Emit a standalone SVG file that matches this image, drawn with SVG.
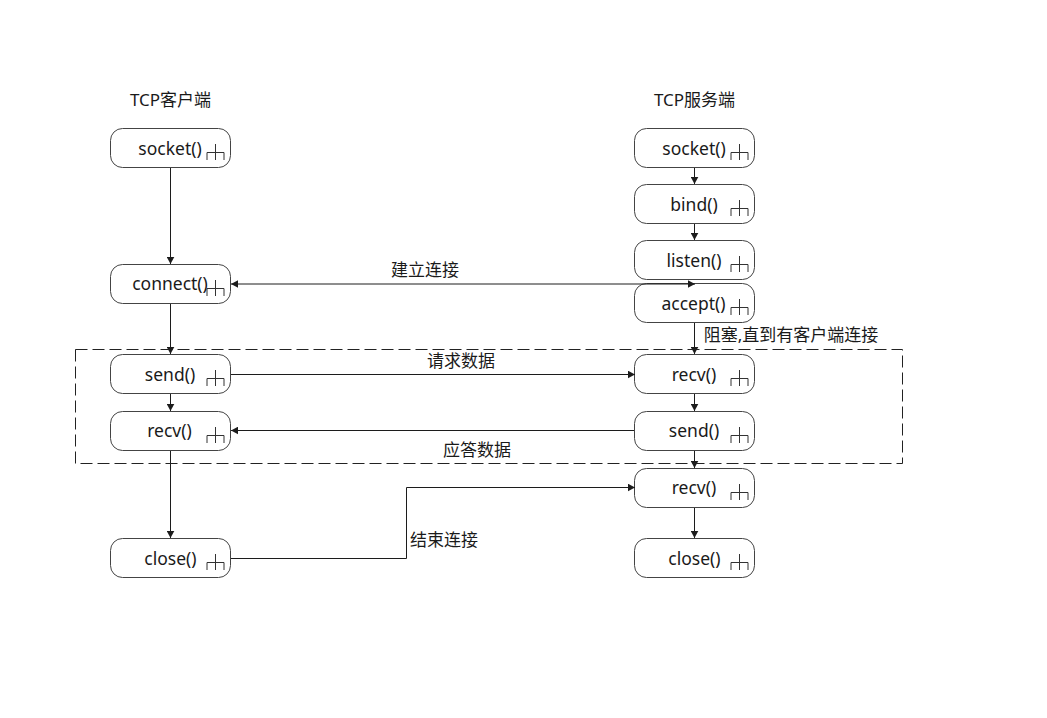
<svg xmlns="http://www.w3.org/2000/svg" xmlns:xlink="http://www.w3.org/1999/xlink" width="1047" height="718" viewBox="0 0 1047 718">
  <style>
    text { font-family: "Noto Sans", "Noto Sans CJK SC", sans-serif; font-size: 17px; fill: #1a1a1a; }
    .fn { font-size: 17.5px; text-anchor: middle; }
    .box { fill: #fff; stroke: #444; stroke-width: 1; }
    .icon { fill: none; stroke: #333; stroke-width: 1; }
    .link { fill: none; stroke: #1c1c1c; stroke-width: 1; }
    .frame { fill: none; stroke: #222; stroke-width: 1; stroke-dasharray: 12 5; }
    .mid { text-anchor: middle; }
  </style>
  <defs>
    <marker id="arrow" markerUnits="userSpaceOnUse" markerWidth="8" markerHeight="8" refX="7" refY="4" orient="auto-start-reverse">
      <path d="M0 .2L7 4L0 7.8Z" fill="#1c1c1c"/>
    </marker>
    <g id="sub">
      <path class="icon" d="M96.5 15.5V31.5M88 31.5V24H105V31.5"/>
    </g>
  </defs>
  <rect width="1047" height="718" fill="#fff"/>

  <g id="client-socket"><rect class="box" x="110.5" y="128.5" width="120" height="39" rx="12"/><text x="170" y="155" class="fn">socket()</text><use href="#sub" x="119" y="128.5"/></g>
  <g id="client-connect"><rect class="box" x="110.5" y="264.5" width="120" height="39" rx="12"/><text x="170" y="290" class="fn">connect()</text><use href="#sub" x="119" y="264.5"/></g>
  <g id="client-send"><rect class="box" x="110.5" y="354.5" width="120" height="39" rx="12"/><text x="170" y="381" class="fn">send()</text><use href="#sub" x="119" y="354.5"/></g>
  <g id="client-recv"><rect class="box" x="110.5" y="411.5" width="120" height="39" rx="12"/><text x="169.5" y="437" class="fn">recv()</text><use href="#sub" x="119" y="411.5"/></g>
  <g id="client-close"><rect class="box" x="110.5" y="538.5" width="120" height="39" rx="12"/><text x="170.5" y="565" class="fn">close()</text><use href="#sub" x="119" y="538.5"/></g>

  <g id="server-socket"><rect class="box" x="634.5" y="128.5" width="120" height="39" rx="12"/><text x="694" y="155" class="fn">socket()</text><use href="#sub" x="643" y="128.5"/></g>
  <g id="server-bind"><rect class="box" x="634.5" y="184.5" width="120" height="39" rx="12"/><text x="694" y="211" class="fn">bind()</text><use href="#sub" x="643" y="184.5"/></g>
  <g id="server-listen"><rect class="box" x="634.5" y="240.5" width="120" height="39" rx="12"/><text x="694" y="267" class="fn">listen()</text><use href="#sub" x="643" y="240.5"/></g>
  <g id="server-accept"><rect class="box" x="634.5" y="283.5" width="120" height="39" rx="12"/><text x="693.5" y="310" class="fn">accept()</text><use href="#sub" x="643" y="283.5"/></g>
  <g id="server-recv"><rect class="box" x="634.5" y="354.5" width="120" height="39" rx="12"/><text x="694" y="381" class="fn">recv()</text><use href="#sub" x="643" y="354.5"/></g>
  <g id="server-send"><rect class="box" x="634.5" y="411.5" width="120" height="39" rx="12"/><text x="694" y="437" class="fn">send()</text><use href="#sub" x="643" y="411.5"/></g>
  <g id="server-recv2"><rect class="box" x="634.5" y="468.5" width="120" height="39" rx="12"/><text x="694" y="494" class="fn">recv()</text><use href="#sub" x="643" y="468.5"/></g>
  <g id="server-close"><rect class="box" x="634.5" y="538.5" width="120" height="39" rx="12"/><text x="694.5" y="565" class="fn">close()</text><use href="#sub" x="643" y="538.5"/></g>

  <g id="connectors">
    <path class="link" d="M170.5 168V264" marker-end="url(#arrow)"/>
    <path class="link" d="M170.5 304V354" marker-end="url(#arrow)"/>
    <path class="link" d="M170.5 394V411" marker-end="url(#arrow)"/>
    <path class="link" d="M170.5 451V538" marker-end="url(#arrow)"/>
    <path class="link" d="M694.5 168V184" marker-end="url(#arrow)"/>
    <path class="link" d="M694.5 224V240" marker-end="url(#arrow)"/>
    <path class="link" d="M694.5 323V354" marker-end="url(#arrow)"/>
    <path class="link" d="M694.5 394V411" marker-end="url(#arrow)"/>
    <path class="link" d="M694.5 451V468" marker-end="url(#arrow)"/>
    <path class="link" d="M694.5 508V538" marker-end="url(#arrow)"/>
    <path class="link" d="M231 284H695" marker-start="url(#arrow)" marker-end="url(#arrow)"/>
    <path class="link" d="M231 374.5H635" marker-end="url(#arrow)"/>
    <path class="link" d="M634 430.5H231" marker-end="url(#arrow)"/>
    <path class="link" d="M231 558.5H406.5V487.5H635" marker-end="url(#arrow)"/>
  </g>

  <rect id="loop-frame" class="frame" x="75.5" y="349.5" width="827" height="114"/>

  <g id="labels">
    <text x="170.5" y="106" class="mid">TCP客户端</text>
    <text x="694.5" y="106" class="mid">TCP服务端</text>
    <text x="425" y="276" class="mid">建立连接</text>
    <text x="791" y="341" class="mid">阻塞,直到有客户端连接</text>
    <text x="461" y="367" class="mid">请求数据</text>
    <text x="477" y="456" class="mid">应答数据</text>
    <text x="444" y="546" class="mid">结束连接</text>
  </g>
</svg>
